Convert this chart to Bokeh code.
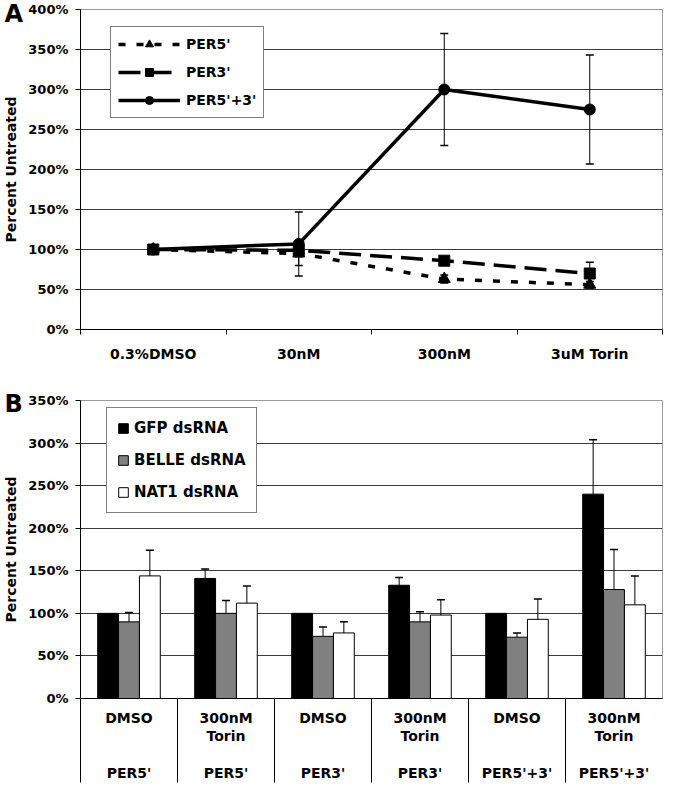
from bokeh.plotting import figure
from bokeh.layouts import column
from bokeh.models import (ColumnDataSource, Whisker, FixedTicker, Range1d, Legend,
                          LegendItem, TeeHead)
from bokeh.embed import file_html
from bokeh.resources import INLINE

FONT = "DejaVu Sans"

# ---------------- Panel A data ----------------
doses = ["0.3%DMSO", "30nM", "300nM", "3uM Torin"]
per5 = [100, 95, 63, 56]
per5_err = [0, 15, 5, 4]
per3 = [100, 99, 86, 70]
per3_err = [0, 8, 4, 14]
per53 = [100, 107, 300, 275]
per53_err = [0, 40, 70, 68]
yticks_A = [0, 50, 100, 150, 200, 250, 300, 350, 400]

# ---------------- Panel B data ----------------
treatments = ["DMSO", "300nM\nTorin", "DMSO", "300nM\nTorin", "DMSO", "300nM\nTorin"]
constructs = ["PER5'", "PER5'", "PER3'", "PER3'", "PER5'+3'", "PER5'+3'"]
gfp = [100, 141, 100, 133, 100, 240]
gfp_err = [0, 11, 0, 9, 0, 64]
belle = [90, 100, 73, 90, 72, 128]
belle_err = [11, 15, 11, 12, 5, 47]
nat1 = [144, 112, 77, 98, 93, 110]
nat1_err = [30, 20, 13, 18, 24, 34]
yticks_B = [0, 50, 100, 150, 200, 250, 300, 350]

W = 664
LEFT = 76
RIGHT = 2


def style_axes(p, yticks):
    p.yaxis.ticker = FixedTicker(ticks=yticks)
    p.yaxis.major_label_overrides = {v: f"{v}%" for v in yticks}
    p.yaxis.major_tick_out = 5
    p.yaxis.major_tick_in = 0
    p.yaxis.minor_tick_out = 0
    p.yaxis.minor_tick_in = 0
    p.yaxis.major_label_standoff = 7
    p.yaxis.axis_label = "Percent Untreated"
    p.yaxis.axis_label_standoff = 6
    for ax in (p.xaxis, p.yaxis):
        ax.major_label_text_font = FONT
        ax.major_label_text_font_style = "bold"
        ax.major_label_text_font_size = "13px"
        ax.major_label_text_color = "black"
        ax.axis_label_text_font = FONT
        ax.axis_label_text_font_style = "bold"
        ax.axis_label_text_font_size = "14px"
        ax.axis_label_text_color = "black"
        ax.axis_line_color = "black"
        ax.major_tick_line_color = "black"
        ax.minor_tick_line_color = "black"
    p.xaxis.major_label_text_font_size = "14px"
    p.xgrid.visible = False
    p.ygrid.grid_line_color = "#3a3a3a"
    p.ygrid.grid_line_width = 1
    p.outline_line_color = "#9a9a9a"
    p.background_fill_color = "white"
    p.border_fill_color = "white"


def panel_letter(p, letter, standoff):
    p.title.text = letter
    p.title.align = "left"
    p.title.vertical_align = "bottom"
    p.title.offset = -LEFT
    p.title.standoff = -standoff
    p.title.text_font = FONT
    p.title.text_font_style = "bold"
    p.title.text_font_size = "24px"
    p.title.text_color = "black"


def add_whisker(p, xs, vals, errs, size=8):
    sel = [i for i, e in enumerate(errs) if e > 0]
    src = ColumnDataSource(dict(
        x=[xs[i] for i in sel],
        lo=[vals[i] - errs[i] for i in sel],
        hi=[vals[i] + errs[i] for i in sel]))
    w = Whisker(source=src, base="x", lower="lo", upper="hi",
                line_color="black", line_width=1,
                upper_head=TeeHead(size=size, line_color="black", line_width=1.5),
                lower_head=TeeHead(size=size, line_color="black", line_width=1.5))
    p.add_layout(w)


# ================= Panel A =================
HA = 372
pA = figure(width=W, height=HA, x_range=Range1d(0, 4), y_range=Range1d(0, 400),
            output_backend="svg", toolbar_location=None,
            min_border_left=LEFT, min_border_right=RIGHT,
            min_border_top=9, min_border_bottom=43)
style_axes(pA, yticks_A)
panel_letter(pA, "A", 36)
xA = [i + 0.5 for i in range(len(doses))]
pA.xaxis.ticker = FixedTicker(ticks=xA, minor_ticks=list(range(len(doses) + 1)))
pA.xaxis.major_label_overrides = {x: d for x, d in zip(xA, doses)}
pA.xaxis.major_tick_out = 0
pA.xaxis.major_tick_in = 0
pA.xaxis.minor_tick_out = 5
pA.xaxis.minor_tick_in = 0
pA.xaxis.major_label_standoff = 11

srcA = ColumnDataSource(dict(x=xA, per5=per5, per3=per3, per53=per53))

add_whisker(pA, xA, per5, per5_err)
add_whisker(pA, xA, per3, per3_err)
add_whisker(pA, xA, per53, per53_err)

l5 = pA.line("x", "per5", source=srcA, line_color="black", line_width=3.5, line_dash="7 11")
s5 = pA.scatter("x", "per5", source=srcA, marker="triangle", size=12,
                fill_color="black", line_color="black")
l3 = pA.line("x", "per3", source=srcA, line_color="black", line_width=3.5, line_dash="22 9")
s3 = pA.scatter("x", "per3", source=srcA, marker="square", size=11,
                fill_color="black", line_color="black")
l53 = pA.line("x", "per53", source=srcA, line_color="black", line_width=3.5)
s53 = pA.scatter("x", "per53", source=srcA, marker="circle", size=11,
                 fill_color="black", line_color="black")

legA = Legend(items=[LegendItem(label="PER5'", renderers=[l5, s5]),
                     LegendItem(label="PER3'", renderers=[l3, s3]),
                     LegendItem(label="PER5'+3'", renderers=[l53, s53])],
              location=(30, 211), orientation="vertical",
              border_line_color="black", border_line_width=1,
              background_fill_color="white", background_fill_alpha=1,
              label_text_font=FONT, label_text_font_style="bold",
              label_text_color="black",
              label_text_font_size="14px", glyph_width=62, glyph_height=20,
              label_height=20, spacing=8, padding=7, margin=0, label_standoff=6)
pA.add_layout(legA)

# ================= Panel B =================
HB = 411
SEP = 84
pB = figure(width=W, height=HB, x_range=Range1d(0, 6), y_range=Range1d(0, 350),
            output_backend="svg", toolbar_location=None,
            min_border_left=LEFT, min_border_right=RIGHT,
            min_border_top=28, min_border_bottom=SEP)
style_axes(pB, yticks_B)
panel_letter(pB, "B", 34)
xB = [i + 0.5 for i in range(len(treatments))]


def tick_label(t, c):
    lines = t.split("\n")
    return "\n".join(lines + [""] * (3 - len(lines)) + [c])


pB.xaxis.ticker = FixedTicker(ticks=xB, minor_ticks=list(range(len(treatments))))
pB.xaxis.major_label_overrides = {x: tick_label(t, c) for x, t, c in zip(xB, treatments, constructs)}
pB.xaxis.major_tick_out = 0
pB.xaxis.major_tick_in = 0
pB.xaxis.minor_tick_out = SEP
pB.xaxis.minor_tick_in = 0
pB.xaxis.major_label_standoff = 11 - SEP
pB.xaxis.major_label_text_line_height = 1.15

BW = 0.215
xg = [x - BW for x in xB]
xb = list(xB)
xn = [x + BW for x in xB]
srcB = ColumnDataSource(dict(xg=xg, xb=xb, xn=xn, gfp=gfp, belle=belle, nat1=nat1))
bg = pB.vbar(x="xg", top="gfp", width=BW, source=srcB, fill_color="black", line_color="black")
bb = pB.vbar(x="xb", top="belle", width=BW, source=srcB, fill_color="#808080", line_color="black")
bn = pB.vbar(x="xn", top="nat1", width=BW, source=srcB, fill_color="white", line_color="black")
add_whisker(pB, xg, gfp, gfp_err)
add_whisker(pB, xb, belle, belle_err)
add_whisker(pB, xn, nat1, nat1_err)

legB = Legend(items=[LegendItem(label="GFP dsRNA", renderers=[bg]),
                     LegendItem(label="BELLE dsRNA", renderers=[bb]),
                     LegendItem(label="NAT1 dsRNA", renderers=[bn])],
              location=(26, 185), orientation="vertical",
              border_line_color="black", border_line_width=1,
              background_fill_color="white", background_fill_alpha=1,
              label_text_font=FONT, label_text_font_style="bold",
              label_text_color="black",
              label_text_font_size="15px", glyph_width=12, glyph_height=12,
              label_height=20, spacing=12, padding=10, margin=0, label_standoff=5)
pB.add_layout(legB)

layout = column(pA, pB)
open("out.html", "w").write(file_html(layout, INLINE))
